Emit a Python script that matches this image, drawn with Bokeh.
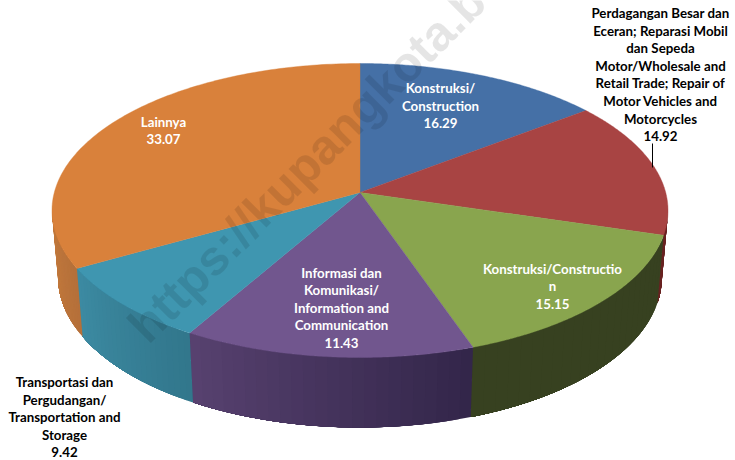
import numpy as np
from bokeh.plotting import figure
from bokeh.embed import file_html
from bokeh.resources import INLINE
from bokeh.core.properties import value

# --- data ---
label_lines = [
    ["Konstruksi/", "Construction"],
    ["Perdagangan Besar dan", "Eceran; Reparasi Mobil", "dan Sepeda", "Motor/Wholesale and",
     "Retail Trade; Repair of", "Motor Vehicles and", "Motorcycles"],
    ["Konstruksi/Constructio", "n"],
    ["Informasi dan", "Komunikasi/", "Information and", "Communication"],
    ["Transportasi dan", "Pergudangan/", "Transportation and", "Storage"],
    ["Lainnya"],
]
label_values = [16.29, 14.92, 15.15, 11.43, 9.42, 33.07]
# the share of the circle each slice actually occupies in the picture
slice_shares = [14.6, 15.0, 15.1, 13.6, 8.5, 33.2]
watermark = "https://kupangkota.b"

# --- styles and layout ---
top_colors = ["#4570a6", "#a84443", "#89a54e", "#71568e", "#3f96b0", "#d9813b"]
wall_left = ["#3a5a80", "#6a2423", "#374120", "#57416f", "#3c8aa2", "#c47a3c"]
wall_right = ["#3a5a80", "#6a2423", "#374120", "#33264a", "#32778c", "#b5703a"]
label_colors = ["white", "black", "white", "white", "black", "white"]
label_pos = [(440, 87.5), (660, 12.5), (552, 268), (341, 272), (64, 381.5), (163, 121)]
LINE = 17.6
W, H = 735, 460
CX, CY = 359.5, 192
A, BY, CXS = 0.1224, 144.8, 305.7
ELL_Y = 210
LOW_Y, LOW_X, LOW_RY = 277, 0.98, 150 / 147


def top_pt(t):
    d = 1 + A * np.cos(t)
    return CX + CXS * np.sin(t) / d, CY - BY * np.cos(t) / d


def low_pt(t):
    x, y = top_pt(t)
    return CX + (x - CX) * LOW_X, LOW_Y + (y - ELL_Y) * LOW_RY


def mix(c1, c2, f):
    a = [int(c1[i:i + 2], 16) for i in (1, 3, 5)]
    b = [int(c2[i:i + 2], 16) for i in (1, 3, 5)]
    return "#%02x%02x%02x" % tuple(round(u + (v - u) * f) for u, v in zip(a, b))


p = figure(width=W, height=H, x_range=(0, W), y_range=(H, 0), toolbar_location=None,
           output_backend="svg", min_border=0, outline_line_color=None,
           background_fill_color="white", border_fill_color="white")
p.axis.visible = False
p.grid.visible = False

edges = np.cumsum([0] + slice_shares) / sum(slice_shares) * 2 * np.pi
vis0, vis1 = np.arccos(-A), 2 * np.pi - np.arccos(-A)

# side walls: overlapping strips, painted in order so no seam shows
wx, wy, wc = [], [], []
for i in range(len(slice_shares)):
    t0, t1 = max(edges[i], vis0), min(edges[i + 1], vis1)
    if t1 <= t0:
        continue
    grid = np.linspace(t0, t1, 25)
    for j in range(24):
        seg = np.linspace(grid[j], t1, 40)
        ux, uy = top_pt(seg)
        lx, ly = low_pt(seg[::-1])
        wx.append(np.r_[ux, lx]); wy.append(np.r_[uy, ly])
        wc.append(mix(wall_right[i], wall_left[i], j / 23))
p.patches(wx, wy, fill_color=wc, line_color=None)

# top faces
fx, fy = [], []
for i in range(len(slice_shares)):
    ax, ay = top_pt(np.linspace(edges[i], edges[i + 1], 120))
    fx.append(np.r_[CX, ax]); fy.append(np.r_[CY, ay])
p.patches(fx, fy, fill_color=top_colors, line_color=top_colors, line_width=0.4)

# watermark
p.text([136], [333], text=[watermark], angle=np.radians(45), text_color="black", text_alpha=0.1,
       text_font=value("Liberation Sans"), text_font_style="bold", text_font_size="49px",
       text_align="left", text_baseline="alphabetic")

# leader line
p.line([652, 652], [143, 167], line_color="black", line_width=1)

# data labels
tx, ty, ts, tc = [], [], [], []
for lines, val, (x, y), col in zip(label_lines, label_values, label_pos, label_colors):
    for k, s in enumerate(lines + [f"{val:.2f}"]):
        tx.append(x); ty.append(y + k * LINE); ts.append(s); tc.append(col)
p.text(tx, ty, text=ts, text_color=tc, text_font=value("Lato"), text_font_style="bold",
       text_font_size="13.3px", text_align="center", text_baseline="middle")

open("out.html", "w").write(file_html(p, INLINE))
